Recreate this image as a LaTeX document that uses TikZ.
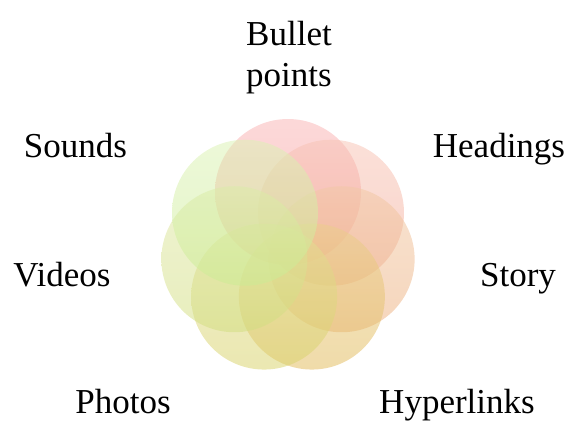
\documentclass[tikz,border=0pt]{standalone}
\usepackage{fontspec}
\setmainfont{Liberation Serif}
\usetikzlibrary{calc}

\definecolor{petalA}{RGB}{248,150,150}
\definecolor{petalB}{RGB}{244,170,150}
\definecolor{petalC}{RGB}{236,176,126}
\definecolor{petalD}{RGB}{226,186,90}
\definecolor{petalE}{RGB}{216,210,106}
\definecolor{petalF}{RGB}{210,222,128}
\definecolor{petalG}{RGB}{204,236,148}

\begin{document}
\begin{tikzpicture}[x=1pt, y=-1pt,
petal/.style={circle, minimum size=146pt, inner sep=0pt, fill opacity=0.52},
lbl/.style={font=\fontsize{35}{41.5}\selectfont, inner sep=0pt, align=center}]

\useasboundingbox (0,0) rectangle (571,421);
\coordinate (ring) at (288,247);

% seven overlapping circles, clockwise from the top
\foreach \k/\col in {0/petalA, 1/petalB, 2/petalC, 3/petalD, 4/petalE, 5/petalF, 6/petalG} {
  \node[petal, top color=\col!70!white, bottom color=\col] (petal\k)
    at ($(ring)+(-90+\k*51.4286:55)$) {};
}

\node[lbl, anchor=north] (bullet) at (289,21) {Bullet\\points};
\node[lbl, anchor=base] (headings) at (499,157.5) {Headings};
\node[lbl, anchor=base] (story) at (518,286) {Story};
\node[lbl, anchor=base] (hyperlinks) at (457,413) {Hyperlinks};
\node[lbl, anchor=base] (photos) at (123,413) {Photos};
\node[lbl, anchor=base] (videos) at (62,286) {Videos};
\node[lbl, anchor=base] (sounds) at (75.5,157.5) {Sounds};

\end{tikzpicture}
\end{document}
